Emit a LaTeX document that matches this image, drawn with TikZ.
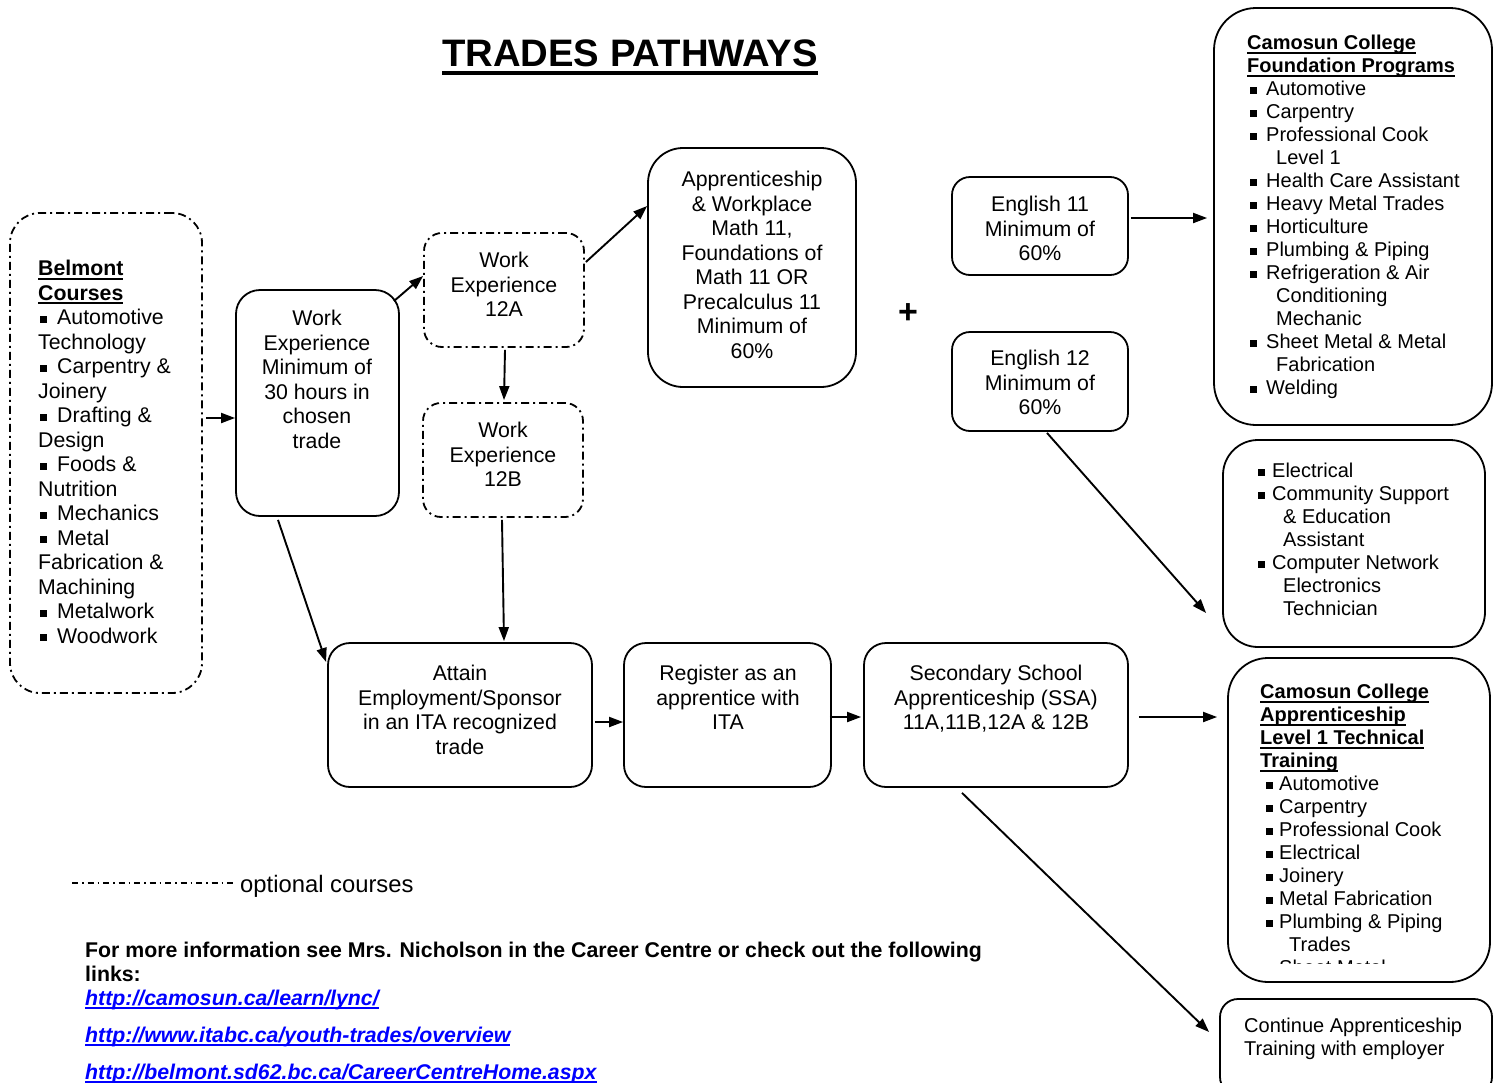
\documentclass[tikz,border=0pt]{standalone}
\usepackage{fontspec}
\setmainfont{Liberation Sans}
\usetikzlibrary{arrows.meta,calc}

\newcommand\fA{\fontsize{21.3}{24.5}\selectfont}
\newcommand\fB{\fontsize{20}{23}\selectfont}
\newsavebox\ulbox
\newcommand\ulb[1]{\sbox\ulbox{\bfseries #1}\rlap{\rule[-4pt]{\wd\ulbox}{2pt}}\usebox\ulbox}
\newcommand\ulink[1]{\sbox\ulbox{\bfseries\itshape #1}\rlap{\rule[-3.5pt]{\wd\ulbox}{1.8pt}}\usebox\ulbox}
\newcommand\sq{\rule[2pt]{7pt}{7pt}}
\newcommand\bB{\hspace*{2pt}\sq\hspace*{10pt}}
\newcommand\bF{\hspace*{3pt}\sq\hspace*{9pt}}
\newcommand\bE{\sq\hspace*{7pt}}
\newcommand\bC{\hspace*{6pt}\sq\hspace*{6pt}}
\newcommand\bx[7]{\node[box=#7,#2,minimum width={(#5)-(#3)},minimum height={(#6)-(#4)}] (#1) at ({((#3)+(#5))/2},{((#4)+(#6))/2}) {};}

\definecolor{linkblue}{RGB}{0,0,255}

\tikzset{
  box/.style={draw=black, line width=1.8pt, rounded corners=#1, inner sep=0pt},
  box/.default=22pt,
  plain/.style={},
  dd/.style={dash pattern=on 8pt off 4pt on 2pt off 4pt},
  txt/.style={inner sep=0pt, align=center, anchor=north, font=\fA, execute at begin node=\strut},
  lst/.style={inner sep=0pt, align=left, anchor=north west, font=\fB, execute at begin node=\strut},
  arr/.style={line width=1.9pt, -{Triangle[length=14pt,width=10pt]}},
  oneline/.style={inner sep=0pt, anchor=base west, font=\fA},
}

\begin{document}
\begin{tikzpicture}[x=1pt,y=-1pt]
\useasboundingbox (0,0) rectangle (1505,1082);
\fill[white] (0,0) rectangle (1505,1082);
\clip (0,0) rectangle (1505,1082);

% title
\node[inner sep=0pt, anchor=base, font=\fontsize{38.3}{42}\selectfont\bfseries] (title) at (630,66)
  {\sbox\ulbox{TRADES PATHWAYS}\rlap{\rule[-8.5pt]{\wd\ulbox}{3.5pt}}\usebox\ulbox};

% boxes
\bx{belm}{dd}{10}{213}{202}{693}{30pt}
\bx{we30}{plain}{236}{290}{399}{516}{24pt}
\bx{we12a}{dd}{424}{233}{584}{347}{18pt}
\bx{we12b}{dd}{423}{403}{583}{517}{18pt}
\bx{math}{plain}{648}{148}{856}{387}{35pt}
\bx{eng11}{plain}{952}{177}{1128}{275}{18pt}
\bx{eng12}{plain}{952}{332}{1128}{431}{18pt}
\bx{found}{plain}{1214}{8}{1492}{425}{42pt}
\bx{elec}{plain}{1223}{440}{1485}{647}{35pt}
\bx{attain}{plain}{328}{643}{592}{787}{22pt}
\bx{reg}{plain}{624}{643}{831}{787}{22pt}
\bx{ssa}{plain}{864}{643}{1128}{787}{22pt}
\bx{camapp}{plain}{1228}{658}{1490}{982}{40pt}
\bx{cont}{plain}{1220}{999}{1492}{1095}{18pt}

% box texts
\node[txt] (t-we30) at (317,310) {Work\\Experience\\Minimum of\\30 hours in\\chosen\\trade};
\node[txt] (t-we12a) at (504,252) {Work\\Experience\\12A};
\node[txt] (t-we12b) at (503,422) {Work\\Experience\\12B};
\node[txt] (t-math) at (752,171) {Apprenticeship\\\& Workplace\\Math 11,\\Foundations of\\Math 11 OR\\Precalculus 11\\Minimum of\\60\%};
\node[txt] (t-eng11) at (1040,196) {English 11\\Minimum of\\60\%};
\node[txt] (t-eng12) at (1040,350) {English 12\\Minimum of\\60\%};
\node[txt] (t-attain) at (460,665) {Attain\\Employment/Sponsor\\in an ITA recognized\\trade};
\node[txt] (t-reg) at (728,665) {Register as an\\apprentice with\\ITA};
\node[txt] (t-ssa) at (996,665) {Secondary School\\Apprenticeship (SSA)\\11A,11B,12A \& 12B};

\node[txt, align=left, anchor=north west] (t-belm) at (38,260) {\ulb{Belmont}\\\ulb{Courses}\\\bB Automotive\\Technology\\\bB Carpentry \&\\Joinery\\\bB Drafting \&\\Design\\\bB Foods \&\\Nutrition\\\bB Mechanics\\\bB Metal\\Fabrication \&\\Machining\\\bB Metalwork\\\bB Woodwork};

\node[lst] (t-found) at (1247,35) {\ulb{Camosun College}\\\ulb{Foundation Programs}\\\bF Automotive\\\bF Carpentry\\\bF Professional Cook\\\hspace*{29pt}Level 1\\\bF Health Care Assistant\\\bF Heavy Metal Trades\\\bF Horticulture\\\bF Plumbing \& Piping\\\bF Refrigeration \& Air\\\hspace*{29pt}Conditioning\\\hspace*{29pt}Mechanic\\\bF Sheet Metal \& Metal\\\hspace*{29pt}Fabrication\\\bF Welding};

\node[lst] (t-elec) at (1258,463) {\bE Electrical\\\bE Community Support\\\hspace*{25pt}\& Education\\\hspace*{25pt}Assistant\\\bE Computer Network\\\hspace*{25pt}Electronics\\\hspace*{25pt}Technician};

\begin{scope}
\clip (1230,660) rectangle (1488,963);
\node[lst] (t-camapp) at (1260,684) {\ulb{Camosun College}\\\ulb{Apprenticeship}\\\ulb{Level 1 Technical}\\\ulb{Training}\\\bC Automotive\\\bC Carpentry\\\bC Professional Cook\\\bC Electrical\\\bC Joinery\\\bC Metal Fabrication\\\bC Plumbing \& Piping\\\hspace*{29pt}Trades\\\bC Sheet Metal};
\end{scope}

\node[lst] (t-cont) at (1244,1018) {Continue Apprenticeship\\Training with employer};

% plus
\node[inner sep=0pt, font=\fontsize{34}{36}\selectfont\bfseries] (plus) at (908,314) {+};

% arrows
\draw[arr] ($(belm.east)+(3,-35)$) -- ($(we30.west)+(0,15)$);
\draw[arr] ($(we30.north east)+(-6,12)$) -- ($(we12a.west)+(0,-14)$);
\draw[arr] ($(we12a.east)+(1,-28)$) -- ($(math.west)+(0,-61.5)$);
\draw[arr] ($(we12a.south)+(1,2)$) -- ($(we12b.north)+(1,-2)$);
\draw[arr] ($(we12b.south)+(-1,2)$) -- ($(attain.north)+(44,-1)$);
\draw[arr] ($(we30.south)+(-39.5,3)$) -- ($(attain.west)+(-1,-53)$);
\draw[arr] ($(attain.east)+(2,7)$) -- ($(reg.west)+(0,7)$);
\draw[arr] ($(reg.east)+(-2,2)$) -- ($(ssa.west)+(-2,2)$);
\draw[arr] ($(ssa.east)+(10,2)$) -- ($(camapp.west)+(-10,-103)$);
\draw[arr] ($(ssa.south)+(-34,5)$) -- ($(cont.west)+(-10,-15)$);
\draw[arr] ($(eng11.east)+(2,-8)$) -- ($(found.west)+(-6,1.5)$);
\draw[arr] ($(eng12.south)+(7,1)$) -- ($(elec.west)+(-16,69.5)$);

% legend
\coordinate (lg1) at (72,883);
\coordinate (lg2) at (235,883);
\draw[line width=1.2pt, dash pattern=on 6pt off 4pt on 1.5pt off 4pt] (lg1) -- (lg2);
\node[oneline, font=\fontsize{23.8}{26}\selectfont] (legend) at (240,892) {optional courses};

% info
\node[oneline, font=\fA\bfseries] (info1) at (85,957) {For more information see Mrs. Nicholson in the Career Centre or check out the following};
\node[oneline, font=\fA\bfseries] (info2) at (85,981) {links:};
\node[oneline, text=linkblue] (link1) at (85,1005) {\ulink{http://camosun.ca/learn/lync/}};
\node[oneline, text=linkblue] (link2) at (85,1042) {\ulink{http://www.itabc.ca/youth-trades/overview}};
\node[oneline, text=linkblue] (link3) at (85,1079) {\ulink{http://belmont.sd62.bc.ca/CareerCentreHome.aspx}};
\end{tikzpicture}
\end{document}
